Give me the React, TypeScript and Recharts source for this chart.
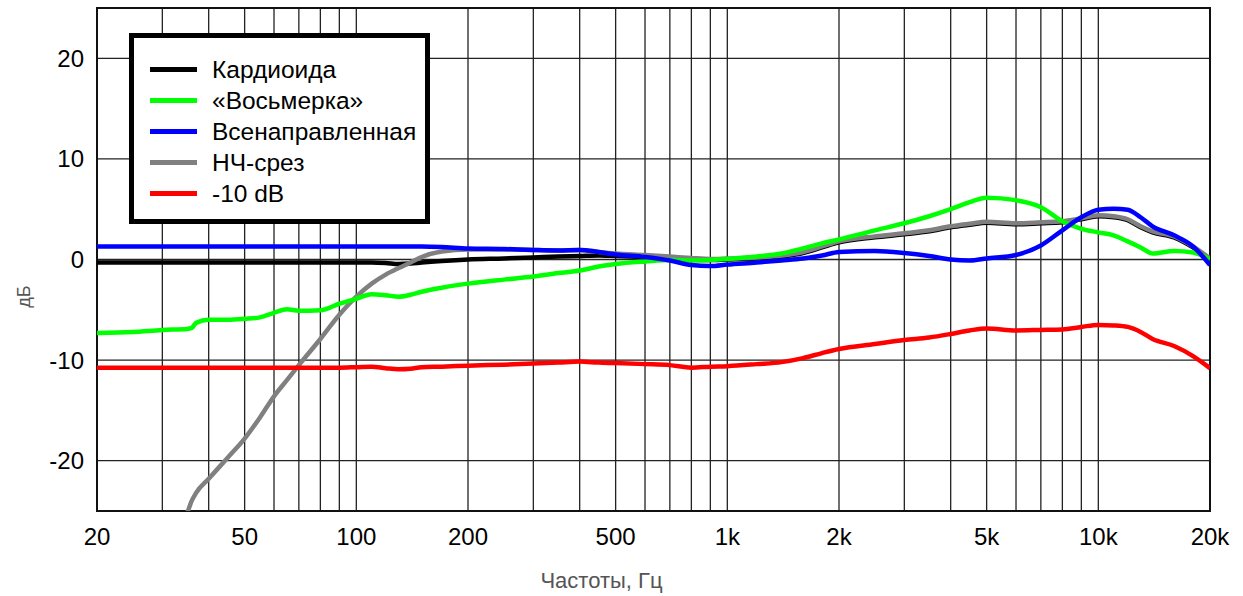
import React from 'react';
import { ComposedChart, Line, XAxis, YAxis, CartesianGrid, ReferenceArea, Legend } from 'recharts';

// frequency points, Hz
const freqs = [
  20, 25, 30, 35, 36, 37, 40, 45, 50, 55,
  60, 65, 70, 80, 90, 100, 110, 120, 130, 140,
  150, 170, 200, 250, 300, 350, 400, 450, 500, 600,
  700, 800, 900, 1000, 1200, 1400, 1600, 1800, 2000, 2500,
  3000, 3500, 4000, 4500, 5000, 6000, 7000, 8000, 9000, 10000,
  11000, 12000, 13000, 14000, 16000, 18000, 20000,
];

// dB values, one per frequency
const cardioid = [
  -0.3, -0.3, -0.3, -0.3, -0.3, -0.3, -0.3, -0.3, -0.3, -0.3,
  -0.3, -0.3, -0.3, -0.3, -0.3, -0.3, -0.3, -0.35, -0.45, -0.4,
  -0.3, -0.15, 0.0, 0.1, 0.2, 0.3, 0.35, 0.4, 0.35, 0.25,
  0.15, 0.0, -0.05, 0.0, 0.1, 0.3, 0.65, 1.2, 1.7, 2.2,
  2.5, 2.8, 3.2, 3.45, 3.65, 3.5, 3.6, 3.7, 4.0, 4.3,
  4.2, 3.9, 3.2, 2.7, 2.2, 1.2, 0.0,
];

const figure8 = [
  -7.3, -7.2, -7.0, -6.9, -6.8, -6.3, -6.0, -6.0, -5.9, -5.75,
  -5.3, -4.95, -5.1, -5.05, -4.4, -3.9, -3.45, -3.55, -3.7, -3.5,
  -3.2, -2.8, -2.4, -2.0, -1.7, -1.35, -1.1, -0.7, -0.45, -0.2,
  -0.05, -0.1, -0.05, 0.05, 0.3, 0.6, 1.1, 1.6, 2.0, 2.9,
  3.6, 4.3, 5.0, 5.7, 6.15, 5.9, 5.2, 3.8, 3.05, 2.7,
  2.4, 1.8, 1.2, 0.6, 0.85, 0.7, 0.0,
];

const omni = [
  1.3, 1.3, 1.3, 1.3, 1.3, 1.3, 1.3, 1.3, 1.3, 1.3,
  1.3, 1.3, 1.3, 1.3, 1.3, 1.3, 1.3, 1.3, 1.3, 1.3,
  1.3, 1.25, 1.1, 1.05, 0.95, 0.9, 0.95, 0.75, 0.5, 0.25,
  -0.1, -0.55, -0.65, -0.5, -0.3, -0.1, 0.1, 0.4, 0.75, 0.85,
  0.65, 0.35, 0.0, -0.1, 0.1, 0.45, 1.4, 2.9, 4.2, 4.95,
  5.05, 4.95, 4.2, 3.3, 2.4, 1.3, -0.55,
];

const lowCut = [
  null, null, -29, -25.2, -24.0, -23.2, -21.8, -19.7, -17.8, -15.7,
  -13.6, -12.0, -10.5, -7.9, -5.5, -3.7, -2.4, -1.5, -0.85, -0.3,
  0.25, 0.8, 1.0, 1.0, 0.95, 0.9, 0.95, 0.75, 0.6, 0.45,
  0.3, 0.15, 0.05, 0.1, 0.2, 0.4, 0.75, 1.3, 1.8, 2.3,
  2.6, 2.9, 3.3, 3.55, 3.75, 3.6, 3.7, 3.8, 4.1, 4.4,
  4.3, 4.0, 3.3, 2.8, 2.3, 1.3, 0.1,
];

const pad10 = [
  -10.75, -10.75, -10.75, -10.75, -10.75, -10.75, -10.75, -10.75, -10.75, -10.75,
  -10.75, -10.75, -10.75, -10.75, -10.75, -10.7, -10.65, -10.8, -10.9, -10.85,
  -10.7, -10.65, -10.55, -10.45, -10.35, -10.25, -10.15, -10.25, -10.3, -10.4,
  -10.5, -10.75, -10.65, -10.6, -10.4, -10.2, -9.8, -9.3, -8.9, -8.4,
  -8.0, -7.75, -7.4, -7.05, -6.85, -7.05, -7.0, -6.95, -6.7, -6.5,
  -6.55, -6.7, -7.2, -7.9, -8.6, -9.6, -10.8,
];

const legendOrder = ['Кардиоида', '«Восьмерка»', 'Всенаправленная', 'НЧ-срез', '-10 dB'];

const gridFreqs = [
  20, 30, 40, 50, 60, 70, 80, 90, 100, 200, 300, 400, 500, 600, 700, 800, 900,
  1000, 2000, 3000, 4000, 5000, 6000, 7000, 8000, 9000, 10000, 20000,
];
const freqLabels: Record<number, string> = {
  20: '20', 50: '50', 100: '100', 200: '200', 500: '500',
  1000: '1k', 2000: '2k', 5000: '5k', 10000: '10k', 20000: '20k',
};
const dbTicks = [-20, -10, 0, 10, 20];

const data = freqs.map((f, i) => ({
  f,
  cardioid: cardioid[i],
  figure8: figure8[i],
  omni: omni[i],
  lowCut: lowCut[i],
  pad10: pad10[i],
}));

const renderLegend = (props: any) => {
  const items = [...(props.payload || [])].sort(
    (a, b) => legendOrder.indexOf(a.value) - legendOrder.indexOf(b.value)
  );
  return (
    <div
      style={{
        width: 301, height: 191, boxSizing: 'border-box', border: '5px solid #000',
        background: '#fff', paddingTop: 16, paddingLeft: 16,
      }}
    >
      {items.map((it) => (
        <div key={it.value} style={{ display: 'flex', alignItems: 'center', height: 31 }}>
          <span style={{ display: 'inline-block', width: 47, height: 5, background: it.color, marginRight: 15 }} />
          <span style={{ fontSize: 24.5, color: '#000', lineHeight: '31px', whiteSpace: 'nowrap' }}>{it.value}</span>
        </div>
      ))}
    </div>
  );
};

const renderXTitle = (props: any) => {
  const vb = props.viewBox;
  return (
    <text x={vb.x + vb.width / 2 - 52} y={vb.y + vb.height - 8} textAnchor="middle" fill="#555" fontSize={22}>
      Частоты, Гц
    </text>
  );
};

const renderYTitle = (props: any) => {
  const vb = props.viewBox;
  const x = 24;
  const y = vb.y + vb.height / 2 + 37;
  return (
    <text x={x} y={y} textAnchor="middle" dominantBaseline="central" fill="#555" fontSize={18}
      transform={`rotate(-90, ${x}, ${y})`}>
      дБ
    </text>
  );
};

export default function App() {
  return (
    <div style={{ position: 'absolute', left: 0, top: 0, fontFamily: '"Liberation Sans", Arial, sans-serif', background: '#fff' }}>
      <ComposedChart width={1243} height={596} data={data} margin={{ top: 8, right: 33, bottom: 0, left: 0 }}>
        <CartesianGrid stroke="#222" strokeWidth={1.3} />
        <XAxis
          dataKey="f" type="number" scale="log" domain={[20, 20000]} ticks={gridFreqs} interval={0}
          allowDataOverflow tickFormatter={(v: number) => freqLabels[v] ?? ''}
          height={85} tickLine={false} tickSize={0} tickMargin={17} axisLine={false}
          tick={{ fill: '#000', fontSize: 24 }} label={renderXTitle}
        />
        <YAxis
          type="number" domain={[-25, 25]} ticks={dbTicks} allowDataOverflow
          width={97} tickLine={false} tickSize={0} tickMargin={13} axisLine={false}
          tick={{ fill: '#000', fontSize: 24 }} label={renderYTitle}
        />
        <Legend layout="vertical" align="center" verticalAlign="middle" content={renderLegend}
          wrapperStyle={{ left: 129, top: 33, width: 301, height: 191 }} />
        <Line name="Кардиоида" dataKey="cardioid" type="monotone" stroke="#000000" strokeWidth={4.5} dot={false} activeDot={false} isAnimationActive={false} />
        <Line name="НЧ-срез" dataKey="lowCut" type="monotone" stroke="#808080" strokeWidth={4.5} dot={false} activeDot={false} isAnimationActive={false} />
        <Line name="«Восьмерка»" dataKey="figure8" type="monotone" stroke="#00ff00" strokeWidth={4.5} dot={false} activeDot={false} isAnimationActive={false} />
        <Line name="Всенаправленная" dataKey="omni" type="monotone" stroke="#0000ff" strokeWidth={4.5} dot={false} activeDot={false} isAnimationActive={false} />
        <Line name="-10 dB" dataKey="pad10" type="monotone" stroke="#ff0000" strokeWidth={4.5} dot={false} activeDot={false} isAnimationActive={false} />
        <ReferenceArea x1={20} x2={20000} y1={-25} y2={25} fill="none" stroke="#111" strokeWidth={2} />
      </ComposedChart>
    </div>
  );
}
